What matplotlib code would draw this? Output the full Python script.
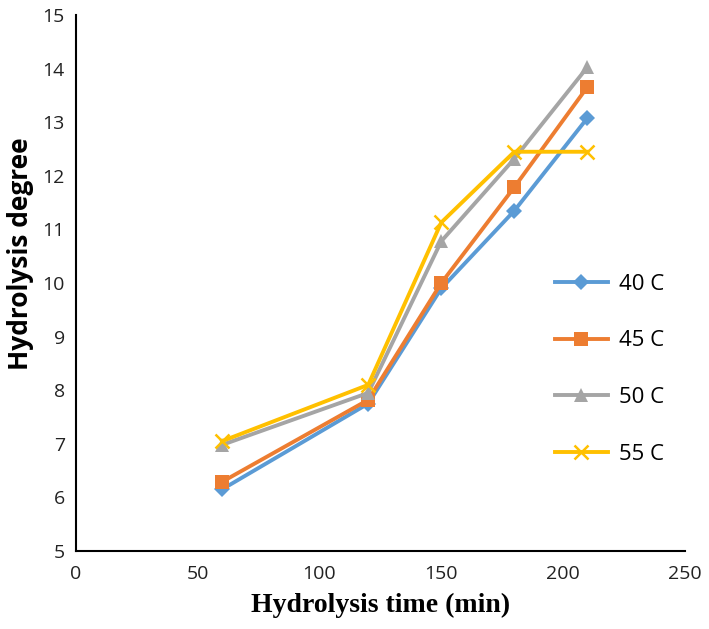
import matplotlib
matplotlib.use("Agg")
import matplotlib.pyplot as plt

time_min = [60, 120, 150, 180, 210]
s40 = [6.15, 7.75, 9.9, 11.35, 13.08]
s45 = [6.29, 7.82, 10.0, 11.79, 13.66]
s50 = [6.98, 7.95, 10.78, 12.32, 14.03]
s55 = [7.05, 8.1, 11.13, 12.45, 12.45]
labels = ["40 C", "45 C", "50 C", "55 C"]
x_ticks = [0, 50, 100, 150, 200, 250]
y_ticks = [5, 6, 7, 8, 9, 10, 11, 12, 13, 14, 15]

fig = plt.figure(figsize=(7.09, 6.29), dpi=100)
ax = fig.add_axes([0.107, 0.124, 0.859, 0.852])

styles = [
    (s40, "#5B9BD5", "D", 8),
    (s45, "#ED7D31", "s", 10),
    (s50, "#A5A5A5", "^", 10),
    (s55, "#FFC000", "x", 10),
]
for (vals, c, m, ms), lab in zip(styles, labels):
    kw = dict(markeredgewidth=1.8) if m == "x" else dict(markeredgewidth=0)
    ax.plot(time_min, vals, color=c, marker=m, markersize=ms, linewidth=2.8,
            label=lab, clip_on=False, **kw)

ax.set_xlim(0, 250)
ax.set_ylim(5, 15)
ax.set_xticks(x_ticks)
ax.set_yticks(y_ticks)
ax.tick_params(length=0, labelsize=14)
ax.tick_params(axis="x", pad=10)
ax.tick_params(axis="y", pad=8)
for t in ax.get_xticklabels() + ax.get_yticklabels():
    t.set_family("Open Sans")
    t.set_color("#222222")
for s in ["top", "right"]:
    ax.spines[s].set_visible(False)
for s in ["left", "bottom"]:
    ax.spines[s].set_linewidth(1.5)
    ax.spines[s].set_color("black")

ax.set_xlabel("Hydrolysis time (min)", family="Liberation Serif", fontsize=20,
              fontweight="bold")
ax.xaxis.set_label_coords(0.5, -0.078)
ax.set_ylabel("Hydrolysis degree", family="Open Sans", fontsize=19,
              fontweight="bold")
ax.yaxis.set_label_coords(-0.068, 0.555)

leg = ax.legend(loc="upper left", bbox_to_anchor=(0.786, 0.517), frameon=False,
                borderpad=0, borderaxespad=0, handlelength=2.4,
                handletextpad=0.5, labelspacing=1.6,
                prop={"family": "Open Sans", "size": 16})

fig.savefig("out.png", dpi=100)
